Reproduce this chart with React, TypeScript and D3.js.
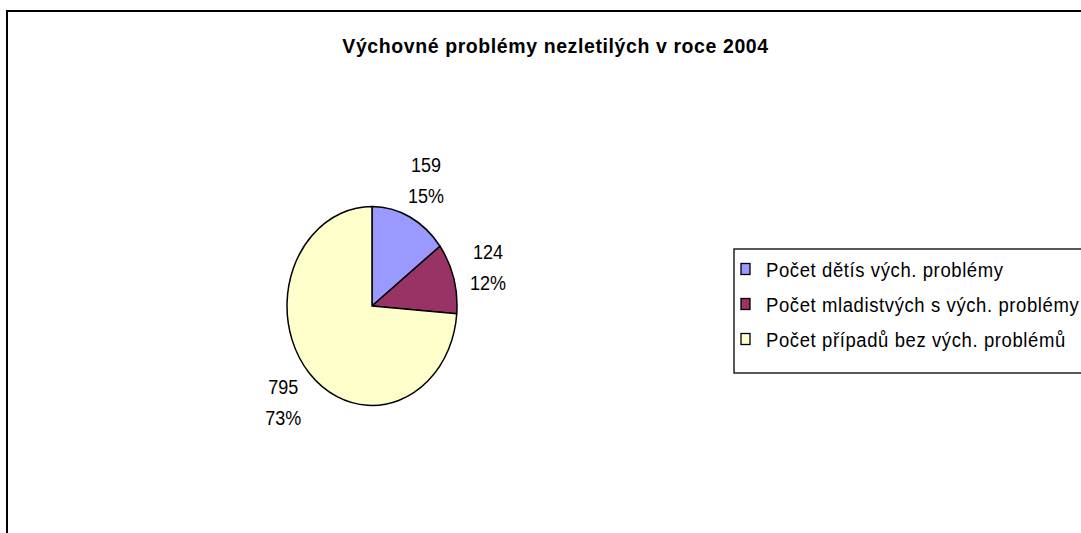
import React from "react";
import * as d3 from "d3";

const categories = [
  "Počet dětís vých. problémy",
  "Počet mladistvých s vých. problémy",
  "Počet případů bez vých. problémů",
];
const values = [159, 124, 795];
const percentLabels = ["15%", "12%", "73%"];
const colors = ["#9999FF", "#993366", "#FFFFCC"];
const title = "Výchovné problémy nezletilých v roce 2004";

const W = 1081;
const H = 533;
const cx = 372;
const cy = 306;
const rx = 85;
const ry = 99.5;
const FONT = "'Liberation Sans', Arial, Helvetica, sans-serif";

export default function App() {
  const pie = d3.pie<number>().sort(null).value((d) => d)(values);
  const arc = d3.arc<d3.PieArcDatum<number>>().innerRadius(0).outerRadius(rx);
  const sy = ry / rx;
  const labelR = 1.42;
  const legendY = d3.scaleBand<number>().domain(d3.range(categories.length)).range([252, 357]);

  return (
    <svg width={W} height={H} style={{ position: "absolute", left: 0, top: 0, background: "#fff" }}>
      <rect x={0} y={0} width={W} height={H} fill="#fff" />
      <rect x={7} y={11} width={W + 20} height={H + 20} fill="#fff" stroke="#000" strokeWidth={2} />
      <text
        transform={`translate(555.5,52.7) scale(1,1.08)`}
        textAnchor="middle"
        fontFamily={FONT}
        fontWeight="bold"
        fontSize={19.5}
        letterSpacing={0.6}
        fill="#000"
      >
        {title}
      </text>
      <g transform={`translate(${cx},${cy}) scale(1,${sy})`}>
        {pie.map((p, i) => (
          <path
            key={i}
            d={arc(p) || ""}
            fill={colors[i]}
            stroke="#000"
            strokeWidth={1.5}
            vectorEffect="non-scaling-stroke"
            strokeLinejoin="round"
          />
        ))}
      </g>
      {pie.map((p, i) => {
        const a = (p.startAngle + p.endAngle) / 2;
        const lx = cx + rx * labelR * Math.sin(a);
        const ly = cy - ry * labelR * Math.cos(a);
        return (
          <g key={i} fontFamily={FONT} fontSize={18} fill="#000" textAnchor="middle">
            <text transform={`translate(${lx},${ly - 8}) scale(1,1.17)`}>{values[i]}</text>
            <text transform={`translate(${lx},${ly + 23}) scale(1,1.17)`}>{percentLabels[i]}</text>
          </g>
        );
      })}
      <rect x={734} y={249} width={500} height={124} fill="#fff" stroke="#000" strokeWidth={1.3} />
      {categories.map((c, i) => {
        const y0 = (legendY(i) || 0) + legendY.bandwidth() / 2;
        return (
          <g key={i}>
            <rect x={741} y={y0 - 6} width={9} height={11} fill={colors[i]} stroke="#000" strokeWidth={1.3} />
            <text
              transform={`translate(766,${y0 + 7.5}) scale(1,1.1)`}
              fontFamily={FONT}
              fontSize={18.5}
              letterSpacing={0.6}
              fill="#000"
            >
              {c}
            </text>
          </g>
        );
      })}
    </svg>
  );
}
